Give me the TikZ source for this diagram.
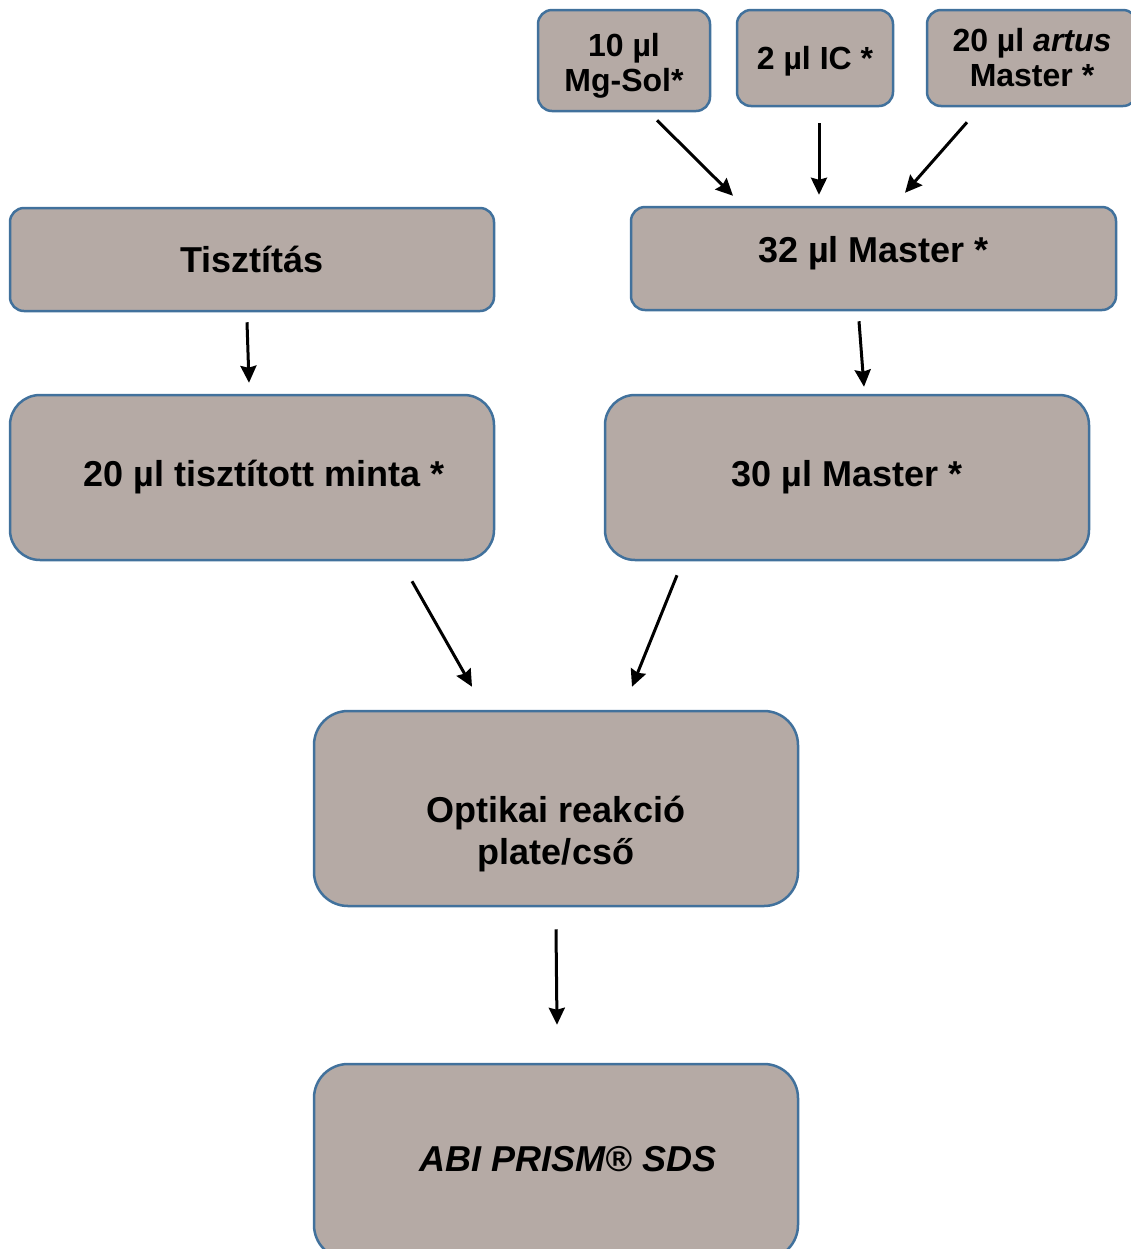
\documentclass[tikz,border=0pt]{standalone}
\usepackage{fontspec}
\setmainfont{Liberation Sans}
\usetikzlibrary{calc,arrows.meta}

\tikzset{
  stepbox/.style={draw={rgb, 255:red, 65; green, 113; blue, 156}, fill={rgb, 255:red, 181; green, 170; blue, 165},
    line width=1.25pt, rounded corners=7pt, inner sep=0.75pt, align=center, font=\bfseries\fontsize{18}{21}\selectfont},
  smallbox/.style={stepbox, font=\bfseries\fontsize{16}{17.5}\selectfont},
  arr/.style={line width=1.5pt, -{Stealth[length=8.5pt,width=8pt,inset=1pt]}}
}

\begin{document}
\begin{tikzpicture}[x=0.5pt,y=0.5pt,yscale=-1,xscale=1]
  \useasboundingbox (0,0) rectangle (1131,1249);

  %Shape: Rounded Rect [inputs]
  \node (mgsol) at (624,60.5) [smallbox, minimum width=86pt, minimum height=50.5pt] {\\[-1pt]10 µl\\Mg-Sol*};
  \node (ic) at (815,58) [smallbox, minimum width=78pt, minimum height=48pt] {\\[-3pt]2 µl IC *};
  \node (artus) at (1032,58) [smallbox, minimum width=105pt, minimum height=48pt] {20 µl \textit{artus}\\Master *};

  %Shape: Rounded Rect [master]
  \node (mastera) at (873.5,258.5) [stepbox, minimum width=242.5pt, minimum height=51.5pt] {\\[-13pt]32 µl Master *};
  \node (masterb) at (847,477.5) [stepbox, rounded corners=15pt, minimum width=242pt, minimum height=82.5pt] {30 µl Master *};

  %Shape: Rounded Rect [sample]
  \node (tiszt) at (252,259.5) [stepbox, minimum width=242pt, minimum height=51.5pt] {Tisztítás};
  \node (minta) at (252,477.5) [stepbox, rounded corners=15pt, minimum width=242pt, minimum height=82.5pt] {\hspace{12pt}20 µl tisztított minta *};

  %Shape: Rounded Rect [plate, instrument]
  \node (optikai) at (556,808.5) [stepbox, rounded corners=17pt, minimum width=242pt, minimum height=97.5pt] {\\[18pt]Optikai reakció\\plate/cső};
  \node (abi) at (556,1161.5) [stepbox, rounded corners=17pt, minimum width=242pt, minimum height=97.5pt] {\\[-11pt]\hspace{12pt}\textit{ABI PRISM® SDS}};

  % Arrows
  \draw [arr] ($(mgsol.south)+(33,8)$) -- ($(mastera.north)+(-140.5,-10)$);
  \draw [arr] ($(ic.south)+(4,16)$) -- ($(mastera.north)+(-54.5,-11)$);
  \draw [arr] ($(artus.south)+(-65,15)$) -- ($(mastera.north)+(31.5,-13)$);
  \draw [arr] ($(mastera.south)+(-14.5,10)$) -- ($(masterb.north)+(17,-7)$);
  \draw [arr] ($(tiszt.south)+(-5,10)$) -- ($(minta.north)+(-3,-11)$);
  \draw [arr] ($(minta.south)+(160,20)$) -- ($(optikai.north)+(-84,-23)$);
  \draw [arr] ($(masterb.south)+(-170,14)$) -- ($(optikai.north)+(76,-23)$);
  \draw [arr] ($(optikai.south)+(0,22)$) -- ($(abi.north)+(1,-38)$);

\end{tikzpicture}
\end{document}
